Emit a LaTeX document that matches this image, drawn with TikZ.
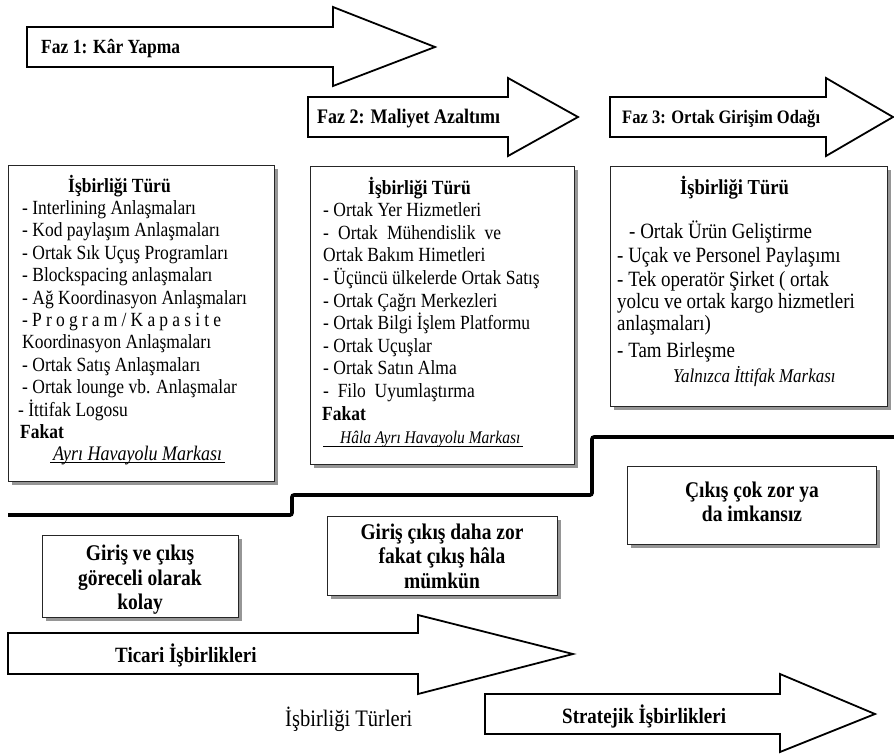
\documentclass[tikz,border=0pt]{standalone}
\usepackage{fontspec}
\setmainfont{Liberation Serif}[FakeStretch=0.87]
\usetikzlibrary{shadows}

\begin{document}
\begin{tikzpicture}[x=1pt,y=-1pt,
  stage/.style={draw=black, line width=1.8pt, fill=white, line join=miter},
  stagelabel/.style={anchor=base west, inner sep=0pt, font=\bfseries\fontsize{20.1}{24}\selectfont},
  panel/.style={draw=black!85, line width=1.3pt, fill=white, rectangle, inner sep=0pt,
    drop shadow={shadow xshift=3pt, shadow yshift=-3.5pt, fill=black!55, opacity=0.75}},
  item/.style={anchor=base west, inner sep=0pt, font=\fontsize{20.1}{24}\selectfont},
  itemlg/.style={item, font=\fontsize{21.8}{26}\selectfont},
  head/.style={item, font=\bfseries\fontsize{20.1}{24}\selectfont},
  brand/.style={item, font=\itshape\fontsize{20.7}{24}\selectfont},
  exitnote/.style={align=center, inner sep=0pt, font=\bfseries\fontsize{22.4}{24.5}\selectfont},
  rule/.style={line width=0.9pt},
  barrier/.style={line width=3.6pt, rounded corners=2pt}
]
\useasboundingbox (0,0) rectangle (894,753);

% ---------- phase arrows ----------
\draw[stage] (27,27) -- (333,27) -- (333,7) -- (435,47) -- (333,86) -- (333,67) -- (27,67) -- cycle;
\node[stagelabel] (f1) at (41,53.5) {Faz 1: Kâr Yapma};

\draw[stage] (308,97) -- (508,97) -- (508,78) -- (578,117) -- (508,156) -- (508,137) -- (308,137) -- cycle;
\node[stagelabel, font=\bfseries\fontsize{20.7}{24}\selectfont] (f2) at (317,123.5) {Faz 2: Maliyet Azaltımı};

\draw[stage] (610,97) -- (826,97) -- (826,78) -- (893,117) -- (826,156) -- (826,137) -- (610,137) -- cycle;
\node[stagelabel, font=\bfseries\fontsize{19}{24}\selectfont] (f3) at (622,123.5) {Faz 3: Ortak Girişim Odağı};

% ---------- panel 1 ----------
\node[panel, anchor=north west, minimum width=266pt, minimum height=316pt] (p1) at (8,165) {};
\node[head] (p1h) at (68,192) {İşbirliği Türü};
\node[item] (p1a) at (22,214.4) {- Interlining Anlaşmaları};
\node[item] (p1b) at (22,236.8) {- Kod paylaşım Anlaşmaları};
\node[item] (p1c) at (22,259.2) {- Ortak Sık Uçuş Programları};
\node[item] (p1d) at (22,281.6) {- Blockspacing anlaşmaları};
\node[item] (p1e) at (22,304) {- Ağ Koordinasyon Anlaşmaları};
\node[item] (p1f) at (22,326.4) {\makebox[199pt][s]{- P r o g r a m / K a p a s i t e}};
\node[item] (p1g) at (22,348.8) {Koordinasyon Anlaşmaları};
\node[item] (p1i) at (22,371.2) {- Ortak Satış Anlaşmaları};
\node[item] (p1j) at (22,393.6) {- Ortak lounge vb. Anlaşmalar};
\node[item] (p1k) at (18,416) {- İttifak Logosu};
\node[head] (p1l) at (20,438.4) {Fakat};
\node[brand] (p1m) at (53,460.8) {Ayrı Havayolu Markası};
\coordinate (p1u1) at (50,462.5);
\coordinate (p1u2) at (225,462.5);
\draw[rule] (p1u1) -- (p1u2);

% ---------- panel 2 ----------
\node[panel, anchor=north west, minimum width=264pt, minimum height=298pt] (p2) at (310,166) {};
\node[head] (p2h) at (368,194) {İşbirliği Türü};
\node[item] (p2a) at (323,216.6) {- Ortak Yer Hizmetleri};
\node[item] (p2b) at (323,239.2) {\makebox[178pt][s]{- Ortak Mühendislik ve}};
\node[item] (p2c) at (323,261.8) {Ortak Bakım Himetleri};
\node[item] (p2d) at (323,284.4) {- Üçüncü ülkelerde Ortak Satış};
\node[item] (p2e) at (323,307) {- Ortak Çağrı Merkezleri};
\node[item] (p2f) at (323,329.6) {- Ortak Bilgi İşlem Platformu};
\node[item] (p2g) at (323,352.2) {- Ortak Uçuşlar};
\node[item] (p2i) at (323,374.8) {- Ortak Satın Alma};
\node[item] (p2j) at (323,397.4) {-\ \ Filo\ \ Uyumlaştırma};
\node[head] (p2k) at (322,420) {Fakat};
\node[brand, font=\itshape\fontsize{17.8}{21}\selectfont] (p2l) at (340,443.5) {Hâla Ayrı Havayolu Markası};
\coordinate (p2u1) at (323,446);
\coordinate (p2u2) at (523,446);
\draw[rule] (p2u1) -- (p2u2);

% ---------- panel 3 ----------
\node[panel, anchor=north west, minimum width=277pt, minimum height=240pt] (p3) at (610,166) {};
\node[head, font=\bfseries\fontsize{21.3}{25}\selectfont] (p3h) at (680,194.5) {İşbirliği Türü};
\node[itemlg] (p3a) at (629,238.5) {- Ortak Ürün Geliştirme};
\node[itemlg] (p3b) at (617,262.5) {- Uçak ve Personel Paylaşımı};
\node[itemlg] (p3c) at (617,286.5) {- Tek operatör Şirket ( ortak};
\node[itemlg] (p3d) at (617,308.5) {yolcu ve ortak kargo hizmetleri};
\node[itemlg] (p3e) at (617,330.5) {anlaşmaları)};
\node[itemlg] (p3f) at (617,357.5) {- Tam Birleşme};
\node[brand, font=\itshape\fontsize{19.5}{23}\selectfont] (p3g) at (673,382.5) {Yalnızca İttifak Markası};

% ---------- barrier line ----------
\coordinate (s0) at (8,515);
\coordinate (s1) at (292,515);
\coordinate (s2) at (292,495);
\coordinate (s3) at (592,495);
\coordinate (s4) at (592,437);
\coordinate (s5) at (894,437);
\draw[barrier] (s0) -- (s1) -- (s2) -- (s3) -- (s4) -- (s5);

% ---------- exit notes ----------
\node[panel, anchor=north west, minimum width=196pt, minimum height=82pt] (q1) at (42,535) {};
\node[exitnote] (q1t) at (140,580) {Giriş ve çıkış\\göreceli olarak\\kolay};

\node[panel, anchor=north west, minimum width=230pt, minimum height=79pt] (q2) at (327,516) {};
\node[exitnote] (q2t) at (442,556) {Giriş çıkış daha zor\\fakat çıkış hâla\\mümkün};

\node[panel, anchor=north west, minimum width=249pt, minimum height=78pt] (q3) at (627,466) {};
\node[exitnote] (q3t) at (752,502) {Çıkış çok zor ya\\da imkansız};

% ---------- cooperation arrows ----------
\draw[stage] (8,633) -- (418,633) -- (418,615) -- (573,654) -- (418,694) -- (418,674) -- (8,674) -- cycle;
\node[stagelabel, font=\bfseries\fontsize{21.8}{26}\selectfont] (c1) at (115,662.5) {Ticari İşbirlikleri};

\draw[stage] (485,694) -- (780,694) -- (780,674) -- (875,714) -- (780,752) -- (780,734) -- (485,734) -- cycle;
\node[stagelabel, font=\bfseries\fontsize{21.8}{26}\selectfont] (c2) at (562,723.5) {Stratejik İşbirlikleri};

\node[item, font=\fontsize{23.6}{28}\selectfont] (c0) at (285,726.5) {İşbirliği Türleri};
\end{tikzpicture}
\end{document}
